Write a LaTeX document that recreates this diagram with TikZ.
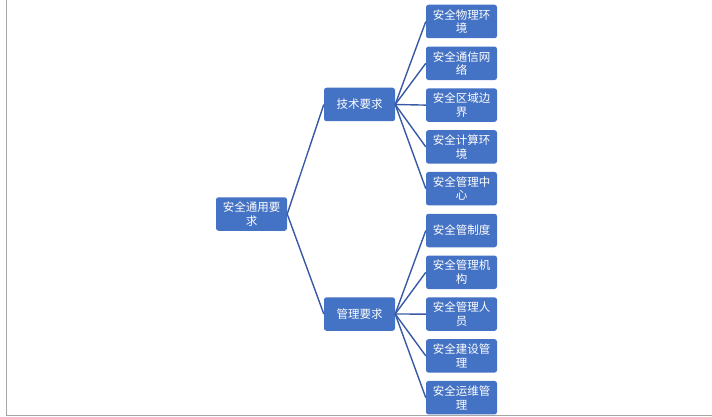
\documentclass[tikz,border=0pt]{standalone}
\usepackage{fontspec}
\setmainfont{Noto Sans CJK SC}
\usetikzlibrary{positioning}
\definecolor{boxblue}{HTML}{4472C4}
\definecolor{lineblue}{RGB}{56,90,166}

\begin{document}
\begin{tikzpicture}[x=1pt, y=-1pt,
    box/.style={fill=boxblue, rounded corners=2.5pt, minimum width=71pt, minimum height=33.5pt,
        inner sep=0pt, text=white, align=center, font=\fontsize{11.5}{13.5}\selectfont},
    link/.style={draw=lineblue, line width=1.4pt}]
    \useasboundingbox (0,0) rectangle (712,417);

    % 边框
    \draw[gray!70, line width=0.9pt] (6,0) -- (6,415) -- (712,415);

    % 根节点
    \node[box] (root) at (251.5,214) {安全通用要\\求};

    % 第二层
    \node[box] (jishu) at (359.5,104.5) {技术要求};
    \node[box] (guanli) at (359.5,314) {管理要求};

    % 技术要求的子节点
    \node[box] (wuli) at (461.5,21.5) {安全物理环\\境};
    \node[box] (tongxin) at (461.5,63.3) {安全通信网\\络};
    \node[box] (bianjie) at (461.5,105.1) {安全区域边\\界};
    \node[box] (jisuan) at (461.5,146.9) {安全计算环\\境};
    \node[box] (zhongxin) at (461.5,188.7) {安全管理中\\心};

    % 管理要求的子节点
    \node[box] (zhidu) at (461.5,230.5) {安全管制度};
    \node[box] (jigou) at (461.5,272.3) {安全管理机\\构};
    \node[box] (renyuan) at (461.5,314.1) {安全管理人\\员};
    \node[box] (jianshe) at (461.5,355.9) {安全建设管\\理};
    \node[box] (yunwei) at (461.5,397.7) {安全运维管\\理};

    % 连线
    \draw[link] (root.east) -- (jishu.west);
    \draw[link] (root.east) -- (guanli.west);

    \draw[link] (jishu.east) -- (wuli.west);
    \draw[link] (jishu.east) -- (tongxin.west);
    \draw[link] (jishu.east) -- (bianjie.west);
    \draw[link] (jishu.east) -- (jisuan.west);
    \draw[link] (jishu.east) -- (zhongxin.west);

    \draw[link] (guanli.east) -- (zhidu.west);
    \draw[link] (guanli.east) -- (jigou.west);
    \draw[link] (guanli.east) -- (renyuan.west);
    \draw[link] (guanli.east) -- (jianshe.west);
    \draw[link] (guanli.east) -- (yunwei.west);
\end{tikzpicture}
\end{document}
